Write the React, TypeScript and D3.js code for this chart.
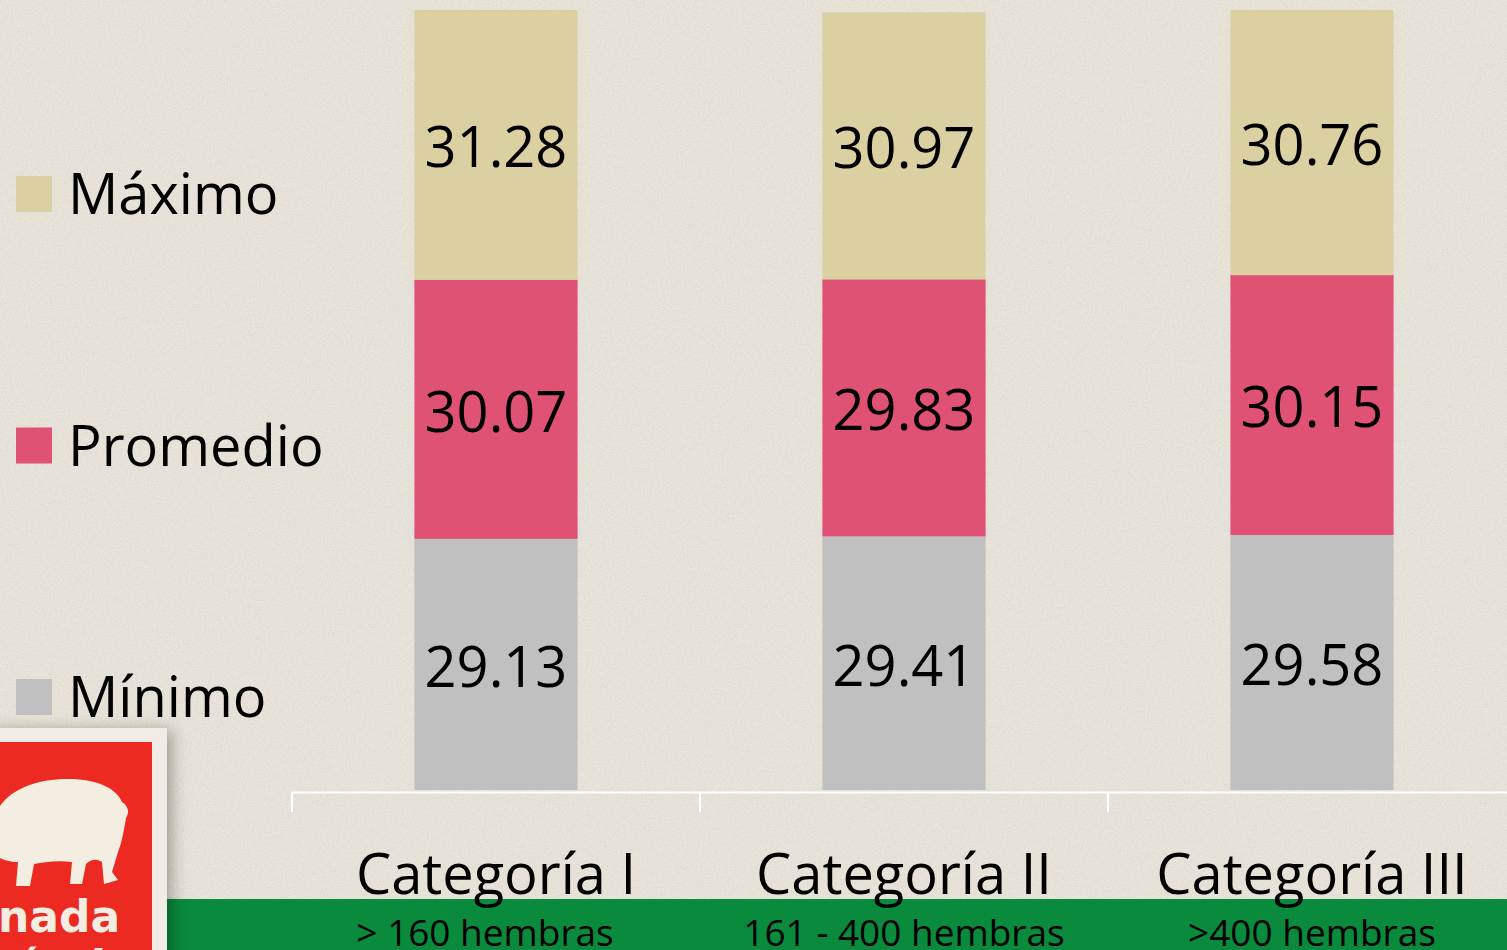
import React, { useEffect, useRef } from "react";
import * as d3 from "d3";

const categories = ["Categoría I", "Categoría II", "Categoría III"];
const subLabels = ["> 160 hembras", "161 - 400 hembras", ">400 hembras"];
const seriesNames = ["Mínimo", "Promedio", "Máximo"];
const minimo = [29.13, 29.41, 29.58];
const promedio = [30.07, 29.83, 30.15];
const maximo = [31.28, 30.97, 30.76];
const seriesColors = ["#c0c0c0", "#e05274", "#dbd0a2"];

const W = 1507;
const H = 950;
const FONT = "'Open Sans', 'DejaVu Sans', sans-serif";

export default function App() {
  const ref = useRef<SVGSVGElement>(null);

  useEffect(() => {
    const svg = d3.select(ref.current);
    svg.selectAll("*").remove();

    const rows = categories.map((c, i) => ({
      category: c,
      "Mínimo": minimo[i],
      "Promedio": promedio[i],
      "Máximo": maximo[i],
    }));
    const stacked = d3.stack<any>().keys(seriesNames)(rows);

    const x = d3.scaleBand().domain(categories).range([292, 1516]).padding(0);
    const y = d3.scaleLinear().domain([0, 91.64]).range([790, 0]);
    const color = d3.scaleOrdinal<string, string>().domain(seriesNames).range(seriesColors);
    const barW = x.bandwidth() * 0.4;

    // paper texture background
    const defs = svg.append("defs");
    const filt = defs.append("filter").attr("id", "paper");
    filt.append("feTurbulence").attr("type", "fractalNoise").attr("baseFrequency", 0.7).attr("numOctaves", 3).attr("seed", 4);
    filt.append("feColorMatrix").attr("type", "matrix")
      .attr("values", "0 0 0 0 0.55  0 0 0 0 0.52  0 0 0 0 0.45  0 0 0 -1.3 0.85");
    const shadow = defs.append("filter").attr("id", "shadow").attr("x", "-20%").attr("y", "-20%").attr("width", "160%").attr("height", "160%");
    shadow.append("feGaussianBlur").attr("stdDeviation", 8);

    svg.append("rect").attr("width", W).attr("height", H).attr("fill", "#e9e5da");
    svg.append("rect").attr("width", W).attr("height", H).attr("filter", "url(#paper)").attr("opacity", 0.45);

    // green band
    svg.append("rect").attr("x", 167).attr("y", 899).attr("width", W - 167).attr("height", H - 899).attr("fill", "#0a8a3c");

    // bars
    const layers = svg.append("g").selectAll("g").data(stacked).join("g")
      .attr("fill", d => color(d.key));
    layers.selectAll("rect").data(d => d).join("rect")
      .attr("x", d => (x(d.data.category) as number) + (x.bandwidth() - barW) / 2)
      .attr("y", d => y(d[1]))
      .attr("width", barW)
      .attr("height", d => y(d[0]) - y(d[1]));

    // value labels
    const labels = svg.append("g");
    stacked.forEach(layer => {
      labels.selectAll(null).data(layer).join("text")
        .attr("x", d => (x(d.data.category) as number) + x.bandwidth() / 2)
        .attr("y", d => (y(d[0]) + y(d[1])) / 2)
        .attr("dy", "0.4em")
        .attr("text-anchor", "middle")
        .style("font-family", FONT)
        .style("font-size", "56px")
        .attr("fill", "#000")
        .text(d => (d[1] - d[0]).toFixed(2));
    });

    // x axis
    const axis = svg.append("g").attr("transform", "translate(0,792)")
      .call(d3.axisBottom(x).tickSize(0).tickFormat(() => ""));
    axis.select(".domain").attr("stroke", "#ffffff").attr("stroke-width", 2);
    const bounds = [292, ...categories.slice(1).map(c => x(c) as number)];
    axis.selectAll(".sep").data(bounds).join("line")
      .attr("x1", d => d).attr("x2", d => d).attr("y1", 0).attr("y2", 20)
      .attr("stroke", "#ffffff").attr("stroke-width", 2);

    svg.append("g").selectAll("text").data(categories).join("text")
      .attr("x", d => (x(d) as number) + x.bandwidth() / 2)
      .attr("y", 894)
      .attr("text-anchor", "middle")
      .style("font-family", FONT)
      .style("font-size", "56px")
      .attr("fill", "#000")
      .text(d => d);

    // first sub label sits left-aligned under its category name, the others are centred
    svg.append("g").selectAll("text").data(subLabels).join("text")
      .attr("x", (d, i) => (x(categories[i]) as number) + x.bandwidth() / 2 + (i === 0 ? -11 : 0))
      .attr("y", 946)
      .attr("text-anchor", "middle")
      .style("font-family", FONT)
      .style("font-size", "37px")
      .attr("fill", "#000")
      .text(d => d);

    // legend
    const legendY = d3.scalePoint().domain(seriesNames.slice().reverse()).range([194, 697]);
    const leg = svg.append("g").selectAll("g").data(seriesNames).join("g")
      .attr("transform", d => `translate(16,${legendY(d)})`);
    leg.append("rect").attr("x", 0).attr("y", -18).attr("width", 36).attr("height", 36)
      .attr("fill", d => color(d));
    leg.append("text").attr("x", 52).attr("y", 0).attr("dy", "0.36em")
      .style("font-family", FONT).style("font-size", "56px").attr("fill", "#000")
      .text(d => d);

    // logo (bottom-left)
    const logo = svg.append("g");
    logo.append("rect").attr("x", -10).attr("y", 730).attr("width", 182).attr("height", 240)
      .attr("fill", "#000").attr("opacity", 0.3).attr("filter", "url(#shadow)");
    logo.append("rect").attr("x", 0).attr("y", 728).attr("width", 167).attr("height", 222).attr("fill", "#f1ede6");
    logo.append("rect").attr("x", 0).attr("y", 742).attr("width", 152).attr("height", 208).attr("fill", "#ec2a22");
    logo.append("path")
      .attr("d", "M0,806 C12,788 40,778 72,779 C98,780 116,788 122,802 C128,806 130,812 126,818 C124,830 122,842 118,852 L112,872 L118,880 L104,884 L102,862 C96,858 90,860 86,864 L82,884 L70,884 L72,862 C58,860 44,862 34,864 L30,886 L16,886 L18,862 C10,862 4,860 0,858 Z")
      .attr("fill", "#f3ede2");
    logo.append("text").attr("x", -2).attr("y", 932)
      .style("font-family", "'DejaVu Sans', sans-serif").style("font-weight", "bold").style("font-size", "44px")
      .attr("fill", "#f3ede2").text("nada");
    logo.append("text").attr("x", -2).attr("y", 982)
      .style("font-family", "'DejaVu Sans', sans-serif").style("font-weight", "bold").style("font-size", "44px")
      .attr("fill", "#f3ede2").text("rícola");
  }, []);

  return (
    <div style={{ position: "fixed", left: 0, top: 0, width: W, height: H }}>
      <svg ref={ref} width={W} height={H} style={{ display: "block" }} />
    </div>
  );
}
